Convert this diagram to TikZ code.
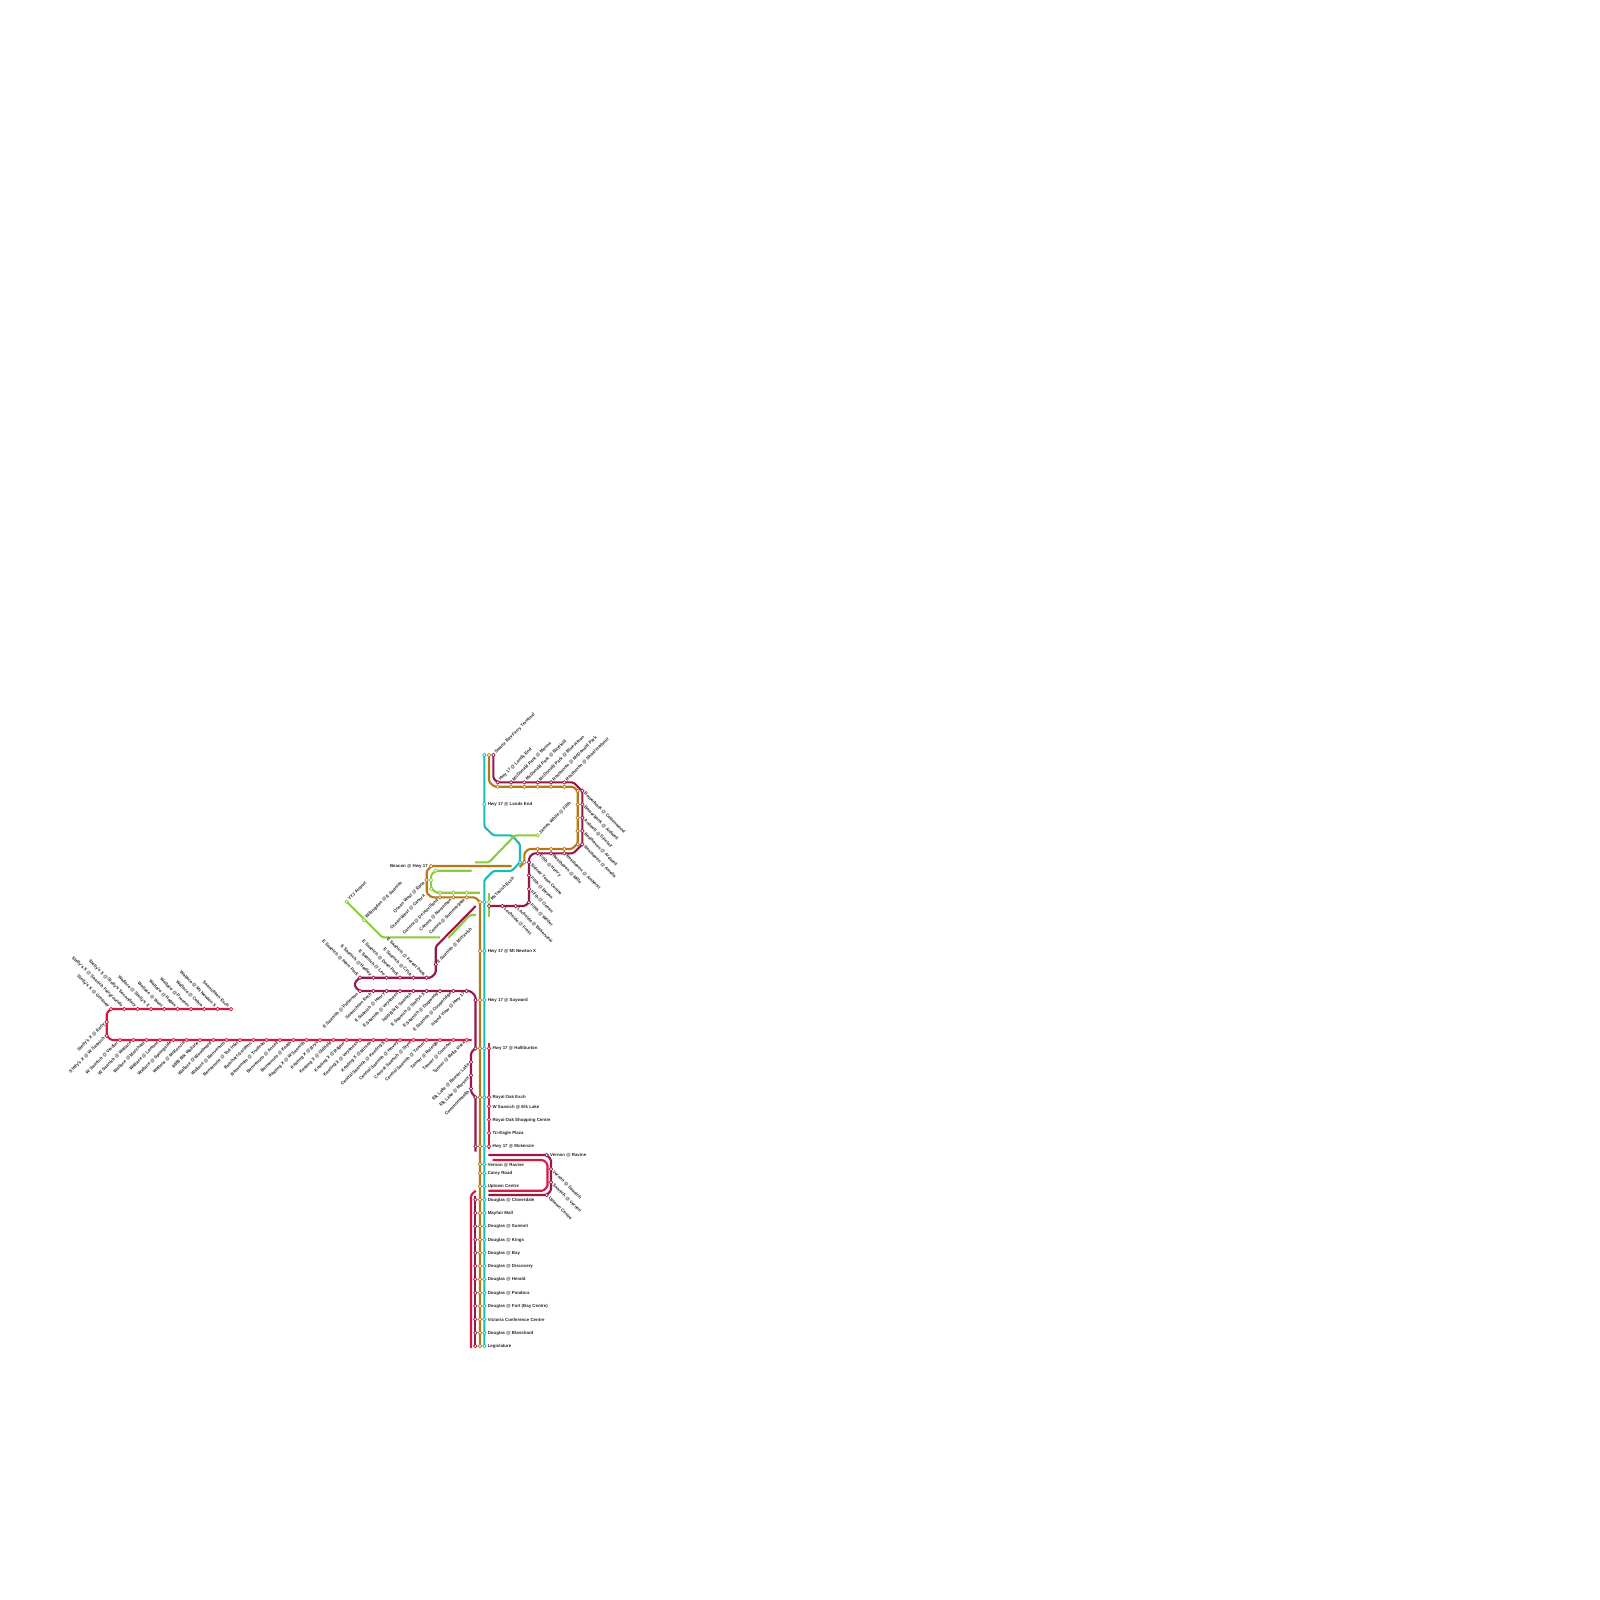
\documentclass[tikz,border=0pt]{standalone}
\usepackage{fontspec}
\setmainfont{Liberation Sans}
\usetikzlibrary{backgrounds}
\definecolor{cred}{HTML}{D9163F}
\definecolor{cmar}{HTML}{98174B}
\definecolor{cora}{HTML}{BB7613}
\definecolor{ctea}{HTML}{14BDB8}
\definecolor{cgre}{HTML}{8CCB3C}
\tikzset{
  stopmark/.style={circle,inner sep=0pt,minimum size=3.5pt,fill=white,line width=.7pt},
  txt/.style={inner sep=0pt,font=\fontsize{4.4}{5}\selectfont\bfseries,text=black!85},
  lne/.style={txt,xshift=2pt,yshift=2pt,rotate=45,anchor=west},
  lse/.style={txt,xshift=2.2pt,yshift=-2.2pt,rotate=-45,anchor=west},
  lnw/.style={txt,xshift=-2.2pt,yshift=2.2pt,rotate=-45,anchor=east},
  lsw/.style={txt,xshift=-2.2pt,yshift=-2.2pt,rotate=45,anchor=east},
  lee/.style={txt,xshift=3.3pt,yshift=-.5pt,anchor=west},
  lww/.style={txt,xshift=-3pt,yshift=-.5pt,anchor=east},
  route/.style={line width=2.1pt,rounded corners=1.5pt,line cap=butt,line join=round},
}
% name, colour, position, label style, text
\newcommand\stp[5]{\node[stopmark,draw=#2] (#1) at (#3) {}; \node[#4] (#1l) at (#1) {#5};}
\newcommand\dt[3]{\node[stopmark,draw=#2] (#1) at (#3) {};}
\begin{document}
\begin{tikzpicture}[x=1pt,y=-1pt]
\useasboundingbox (0,0) rectangle (1600,1600);
% ---- red, top row
\foreach \i/\x/\t in {1/111/Stelly's X @ Greaney,2/124.3/Stelly's X @ Saanich Fairgrounds,3/137.7/Stelly's X @ Stelly's Secondary,4/151/Wallace @ Stelly's X,5/164.3/Wallace @ West,6/177.7/Wallace @ Hagan,7/191/Wallace @ Prosser,8/204.3/Wallace @ Cobra,9/217.7/Wallace @ Mt Newton X,10/231/Saanichton Exch}
  {\stp{rt\i}{cred}{\x,1009}{lnw}{\t}}
\stp{re}{cred}{106.7,1022}{lsw}{Stelly's X @ Early}
\stp{rw}{cred}{106.7,1035.7}{lsw}{Stelly's X @ W Saanich}
% ---- red, bottom row
\foreach \i/\x/\t in {0/120/W Saanich @ Verdier,1/133.3/W Saanich @ Wallace,2/146.7/Wallace @ Marchant,3/160/Wallace @ Lamont,4/173.3/Wallace @ Springside,5/186.7/Wallace @ McKenzie,6/200/6880 Blk Wallace,7/213.3/Wallace @ Woodward,8/226.7/Wallace @ Benvenuto,9/240/Benvenuto @ Tod Inlet,10/253.3/Butchart Gardens,11/266.7/Benvenuto @ Trudeau,12/280/Benvenuto @ Ansell,13/293.3/Benvenuto @ Keath,14/306.7/Keating X @ W Saanich,15/320/Keating X @ Brys,16/333.3/Keating X @ Oldfield,17/346.7/Keating X @ Rajpur,18/360/Keating X @ Veyaness,19/373.3/Keating X @ Mitsch,20/386.7/Central Saanich @ Keating X,21/400/Central Saanich @ Hovey,22/413.3/Central Saanich @ Stym,23/426.7/Central Saanich @ Tanner,24/440/Tanner @ Raleigh,25/453.3/Tanner @ Conconi,26/466.7/Tanner @ Bella Vista}
  {\stp{rb\i}{cred}{\x,1040}{lsw}{\t}}
% ---- maroon, E Saanich rows
\foreach \i/\x/\t in {1/360/E Saanich @ Piers Park,2/373.3/E Saanich @ Hadley,3/386.7/E Saanich @ Lee,4/400/E Saanich @ Dean Park,5/413.3/E Saanich @ CFIA,6/426.7/E Saanich @ Forest Park}
  {\stp{mu\i}{cmar}{\x,977.7}{lnw}{\t}}
\stp{mmc}{cmar}{435.7,964.3}{lne}{E Saanich @ McTavish}
\foreach \i/\x/\t in {1/360/E Saanich @ Patterson,2/373.3/Saanichton Exch,3/386.7/E Saanich @ Henry,4/400/E Saanich @ Veyaness,5/413.3/7400 Blk E Saanich,6/426.7/E Saanich @ Stellys X,7/440/E Saanich @ Dogwood,8/453.3/E Saanich @ Cooperidge,9/466.7/Island View @ Hwy 17}
  {\stp{ml\i}{cmar}{\x,991}{lsw}{\t}}
% ---- maroon, Elk Lake branch
\stp{el1}{cmar}{471,1062}{lsw}{Elk Lake @ Beaver Lake}
\stp{el2}{cmar}{471,1075.3}{lsw}{Elk Lake @ Marsett}
\stp{el3}{cmar}{471,1088.7}{lsw}{Commonwealth}
% ---- trunk, upper part
\foreach \i/\y/\t in {1/951/Hwy 17 @ Mt Newton X,2/1000/Hwy 17 @ Sayward}
  {\dt{ou\i}{cora}{480,\y}\stp{tu\i}{ctea}{484.3,\y}{lee}{\t}}
\dt{mt2}{cmar}{475.5,1000}
\foreach \i/\y/\t in {3/1048.3/Hwy 17 @ Halliburton,4/1097.3/Royal Oak Exch,5/1106.3/W Saanich @ Elk Lake,6/1119.7/Royal Oak Shopping Centre,7/1133/Tri-Eagle Plaza,8/1146.3/Hwy 17 @ Mckenzie}
  {\stp{rm\i}{cred}{489,\y}{lee}{\t}}
\foreach \i/\y in {3/1048.3,4/1097.3,8/1146.3}
  {\dt{mt\i}{cmar}{475.5,\y}\dt{ot\i}{cora}{480,\y}\dt{tt\i}{ctea}{484.3,\y}}
% ---- trunk, Douglas
\foreach \i/\y/\t in {1/1164.3/Vernon @ Ravine,2/1173.3/Carey Road,3/1186.3/Uptown Centre}
  {\dt{od\i}{cora}{480,\y}\stp{td\i}{ctea}{484.3,\y}{lee}{\t}}
\foreach \i/\y/\t in {4/1199.7/Douglas @ Cloverdale,5/1213/Mayfair Mall,6/1226.3/Douglas @ Summit,7/1239.7/Douglas @ Kings,8/1252.7/Douglas @ Bay,9/1266/Douglas @ Discovery,10/1279.3/Douglas @ Herald,11/1292.7/Douglas @ Pandora,12/1306/Douglas @ Fort (Bay Centre),13/1319.3/Victoria Conference Centre,14/1332.7/Douglas @ Blanshard,15/1346/Legislature}
  {\dt{md\i}{cmar}{475.3,\y}\dt{od\i}{cora}{480,\y}\stp{td\i}{ctea}{484.3,\y}{lee}{\t}}
% ---- Vernon / Uptown loop
\stp{vr}{cmar}{546.7,1155}{lee}{Vernon @ Ravine}
\stp{vs}{cmar}{551,1169}{lse}{Vernon @ Saanich}
\stp{sv}{cmar}{551,1182.3}{lse}{Saanich @ Vernon}
\stp{uc}{cmar}{546.7,1195}{lse}{Uptown Centre}
% ---- north end
\stp{sw}{cmar}{493.3,755}{lne}{Swartz Bay Ferry Terminal}
\dt{swo}{cora}{489,755}
\dt{swt}{ctea}{484.3,755}
\stp{tle}{ctea}{484.3,804.3}{lee}{Hwy 17 @ Lands End}
\foreach \i/\x/\t in {1/497.7/Hwy 17 @ Lands End,2/511/McDonald Park @ Marina,3/524.3/McDonald Park @ Bayfield,4/537.7/McDonald Park @ Blue Heron,5/551/Resthaven @ McDonald Park,6/564.3/Resthaven @ Shoal Harbour}
  {\dt{otop\i}{cora}{\x,786.7}\stp{mtop\i}{cmar}{\x,782.3}{lne}{\t}}
\dt{or0}{cora}{577.7,791}
\foreach \i/\y in {1/804.3,2/817.7,3/831,4/844.3}{\dt{or\i}{cora}{577.7,\y}}
\foreach \i/\y/\t in {0/790.7/Bowerbank @ Cottonwood,1/804.3/Bowerbank @ Ardwell,2/817.7/Ardwell @ Sinclair,3/831/Resthaven @ Ardwell,4/844.3/Resthaven @ Amelia}
  {\stp{mr\i}{cmar}{582.3,\y}{lse}{\t}}
\foreach \i/\x/\t in {1/537.7/Fifth @ Henry,2/551/Resthaven @ Mills,3/564.3/Resthaven @ Amherst}
  {\dt{ob\i}{cora}{\x,849}\stp{mb\i}{cmar}{\x,853.3}{lse}{\t}}
\dt{oex}{cora}{524.3,862.3}
\dt{tex}{ctea}{520,862.3}
\foreach \i/\y/\t in {1/862.3/Sidney Town Centre,2/875.3/Fifth @ Bevan,3/889/Fifth @ Ocean,4/902.3/Fifth @ Weiler}
  {\stp{mf\i}{cmar}{529,\y}{lse}{\t}}
\dt{mlo0}{cmar}{489,906}
\stp{mlo1}{cmar}{502.3,906}{lse}{Lochside @ Frost}
\stp{mlo2}{cmar}{515.7,906}{lse}{Lochside @ Bakerview}
\stp{jw}{cgre}{537.7,835.3}{lne}{James White @ Fifth}
% ---- airport, Beacon, Canora
\stp{bh}{cora}{431,866}{lww}{Beacon @ Hwy 17}
\stp{oe}{cora}{426.7,880}{lsw}{Ocean West @ Epco}
\node[txt,rotate=45,anchor=east] (oc) at (424.5,895.2) {Ocean West @ Canora};
\foreach \i/\x/\t in {1/440/Canora @ De Havilland,2/453.3/Canora @ Norseman,3/466.7/Canora @ Summergate}
  {\dt{gc\i}{cgre}{\x,892.7}\stp{oc\i}{cora}{\x,897.3}{lsw}{\t}}
\dt{g0}{cgre}{435.7,870.7}
\dt{g1}{cgre}{431,880}
\dt{g2}{cgre}{431,889}
\stp{yyj}{cgre}{346.7,901.7}{lne}{YYJ Airport}
\stp{wil}{cgre}{364,920}{lne}{Willingdon @ E Saanich}
\dt{omt}{cora}{480,902}
\dt{tmt}{ctea}{484.3,902}
\stp{gmt}{cgre}{489,902}{lne}{McTavish Exch}
% ---- bends and free ends: red
\coordinate (a1) at (106.7,1013);
\coordinate (a2) at (106.7,1035.7);
\coordinate (a3) at (111,1040);
\coordinate (a4) at (471.7,1040);
\coordinate (f1) at (471,1195);
\coordinate (f2) at (475.7,1190.7);
\coordinate (f3) at (471,1348);
\coordinate (f4) at (489,1043.3);
\coordinate (f5) at (489,1149);
\coordinate (d1) at (492.7,1160);
\coordinate (d2) at (543.5,1160);
\coordinate (d3) at (547.5,1164);
\coordinate (d4) at (547.5,1186.7);
\coordinate (d5) at (543.5,1190.7);
\coordinate (d6) at (488.3,1190.7);
% maroon
\coordinate (b1) at (355,987);
\coordinate (b2) at (355,982);
\coordinate (b3) at (431,977.7);
\coordinate (b4) at (435.7,973);
\coordinate (b5) at (435.7,946.7);
\coordinate (b6) at (475.7,906);
\coordinate (c1) at (470.5,991);
\coordinate (c2) at (475.5,996);
\coordinate (c3) at (471,1052.5);
\coordinate (c4) at (471,1092);
\coordinate (c5) at (475.5,1151.7);
\coordinate (e1) at (488.3,1155);
\coordinate (e2) at (551,1159.3);
\coordinate (e3) at (551,1190.7);
\coordinate (e4) at (488.3,1195);
\coordinate (e5) at (475.3,1196);
\coordinate (h1) at (493.3,778.3);
\coordinate (h2) at (497.7,782.3);
\coordinate (h3) at (573.3,782.3);
\coordinate (h4) at (582.3,791);
\coordinate (h5) at (582.3,844.3);
\coordinate (h6) at (573.3,853.3);
\coordinate (h7) at (533.3,853.3);
\coordinate (h8) at (529,857.7);
\coordinate (h9) at (529,902.3);
\coordinate (h10) at (525,906);
% orange
\coordinate (k1) at (489,781.7);
\coordinate (k2) at (494.3,786.7);
\coordinate (k3) at (573.3,786.7);
\coordinate (k4) at (577.7,791);
\coordinate (k5) at (577.7,843.3);
\coordinate (k6) at (572,849);
\coordinate (k7) at (528.5,849);
\coordinate (k8) at (524.3,853.3);
\coordinate (k9) at (519.5,867);
\coordinate (n1) at (511.7,866);
\coordinate (n2) at (431.7,866);
\coordinate (n3) at (426.7,870.7);
\coordinate (n4) at (426.7,893);
\coordinate (n5) at (431.7,897.3);
\coordinate (n6) at (475,897.3);
\coordinate (n7) at (480,902);
% teal
\coordinate (t1) at (484.3,826.7);
\coordinate (t2) at (493.3,835.3);
\coordinate (t3) at (511.7,835.3);
\coordinate (t4) at (520,844.3);
\coordinate (t5) at (511.7,871);
\coordinate (t6) at (493.3,871);
\coordinate (t7) at (484.3,880);
% green
\coordinate (q1) at (515,835.3);
\coordinate (q2) at (489,862.3);
\coordinate (q3) at (475,862.3);
\coordinate (q4) at (471.7,870.7);
\coordinate (q5) at (431,875);
\coordinate (q6) at (431,888);
\coordinate (q7) at (436,892.7);
\coordinate (q8) at (480,892.7);
\coordinate (q9) at (382.3,937.3);
\coordinate (q10) at (440,937.3);
\coordinate (q11) at (448.3,938);
\coordinate (q12) at (470,915);
\coordinate (q13) at (476,915);
\coordinate (q14) at (489,892.7);
\coordinate (q15) at (489,916.7);
\begin{scope}[on background layer]
  % orange
  \draw[route,cora] (swo.center) -- (k1) -- (k2) -- (k3) -- (k4) -- (k5) -- (k6) -- (k7) -- (k8) -- (oex.center) -- (k9);
  \draw[route,cora] (n1) -- (n2) -- (n3) -- (n4) -- (n5) -- (n6) -- (n7) -- (od15.center);
  % maroon
  \draw[route,cmar] (sw.center) -- (h1) -- (h2) -- (h3) -- (h4) -- (h5) -- (h6) -- (h7) -- (h8) -- (h9) -- (h10) -- (mlo0.center);
  \draw[route,cmar] (b6) -- (b5) -- (b4) -- (b3) -- (mu1.center) -- (b2) -- (b1) -- (ml1.center) -- (c1) -- (c2) -- (mt3.center) -- (c3) -- (c4) -- (mt4.center) -- (c5);
  \draw[route,cmar] (e5) -- (md15.center);
  \draw[route,cmar] (e1) -- (vr.center) -- (e2) -- (e3) -- (uc.center) -- (e4);
  % red
  \draw[route,cred] (rt10.center) -- (rt1.center) -- (a1) -- (a2) -- (a3) -- (a4);
  \draw[route,cred] (f4) -- (f5);
  \draw[route,cred] (f2) -- (f1) -- (f3);
  \draw[route,cred] (d1) -- (d2) -- (d3) -- (d4) -- (d5) -- (d6);
  % teal
  \draw[route,ctea] (swt.center) -- (t1) -- (t2) -- (t3) -- (t4) -- (tex.center) -- (t5) -- (t6) -- (t7) -- (td15.center);
  % green
  \draw[route,cgre] (jw.center) -- (q1) -- (q2) -- (q3);
  \draw[route,cgre] (q4) -- (g0.center) -- (q5) -- (q6) -- (q7) -- (q8);
  \draw[route,cgre] (yyj.center) -- (q9) -- (q10);
  \draw[route,cgre] (q11) -- (q12) -- (q13);
  \draw[route,cgre] (q14) -- (q15);
\end{scope}
\end{tikzpicture}
\end{document}
